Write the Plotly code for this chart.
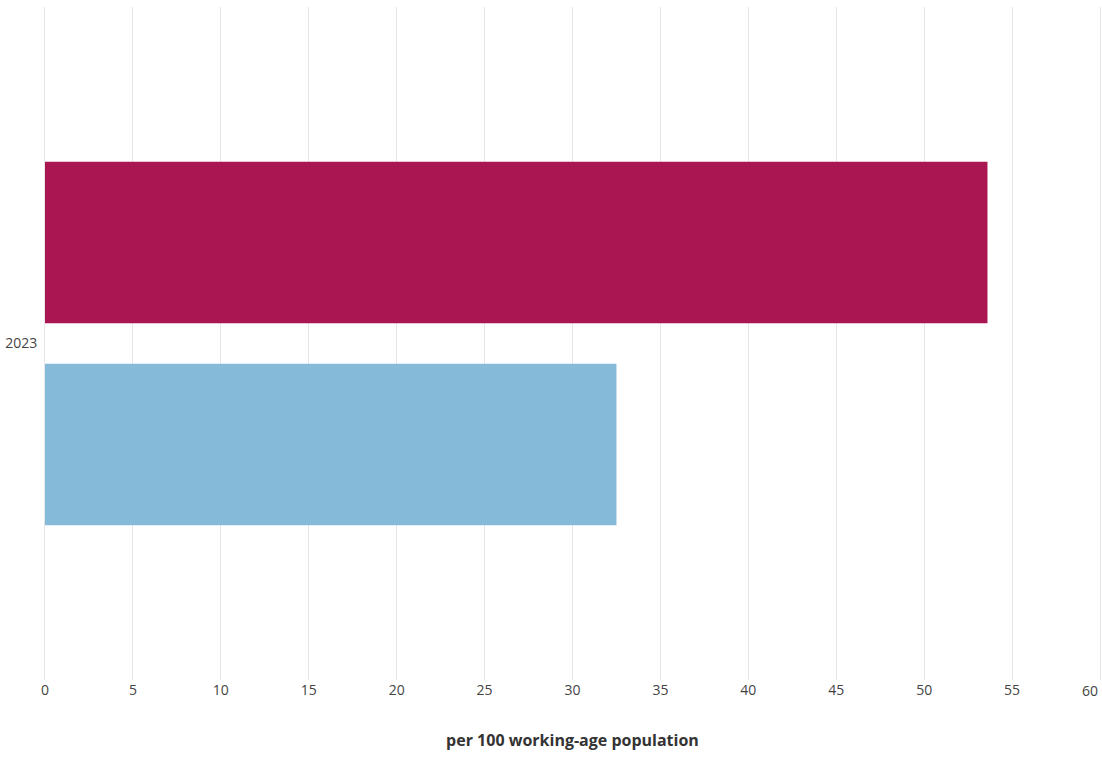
import plotly.graph_objects as go

categories = ["2023"]
series_names = ["Series B", "Series A"]
values_blue = [32.5]
values_crimson = [53.6]
tick_vals = [0, 5, 10, 15, 20, 25, 30, 35, 40, 45, 50, 55, 60]
tick_text = ["0", "5", "10", "15", "20", "25", "30", "35", "40", "45", "50", "55", ""]
last_tick_label = "60"
grid_color = "#e6e6e6"

fig = go.Figure()
fig.add_trace(go.Bar(y=categories, x=values_blue, orientation="h", name=series_names[0],
                     marker=dict(color="#86BAD9", line=dict(width=0))))
fig.add_trace(go.Bar(y=categories, x=values_crimson, orientation="h", name=series_names[1],
                     marker=dict(color="#A91652", line=dict(width=0))))

fig.update_layout(
    width=1102, height=758,
    margin=dict(l=45, r=2, t=7, b=78, autoexpand=False),
    paper_bgcolor="white", plot_bgcolor="white",
    barmode="group", bargap=0.40, bargroupgap=0.20,
    showlegend=False,
    font=dict(family="Open Sans", size=14, color="#444"),
    xaxis=dict(range=[0, 60], tickvals=tick_vals, ticktext=tick_text, showgrid=True,
               gridcolor=grid_color, automargin=False,
               gridwidth=1, zeroline=False, ticks="", tickfont=dict(size=14, color="#444"),
               title=dict(text="<b>per 100 working-age population</b>",
                          font=dict(size=16, color="#333"), standoff=36)),
    yaxis=dict(showgrid=False, zeroline=False, ticks="", automargin=False,
               showline=True, mirror=True, linecolor=grid_color, linewidth=1,
               layer="below traces",
               ticklabelstandoff=4, tickfont=dict(size=14, color="#444")),
)

fig.add_annotation(x=tick_vals[-1], y=0, xref="x", yref="paper", text=last_tick_label,
                   showarrow=False, xanchor="right", yanchor="middle", yshift=-10,
                   font=dict(size=14, color="#444"))

fig.write_html("out.html", config={"displayModeBar": False},
               post_script="document.body.style.margin='0';")
